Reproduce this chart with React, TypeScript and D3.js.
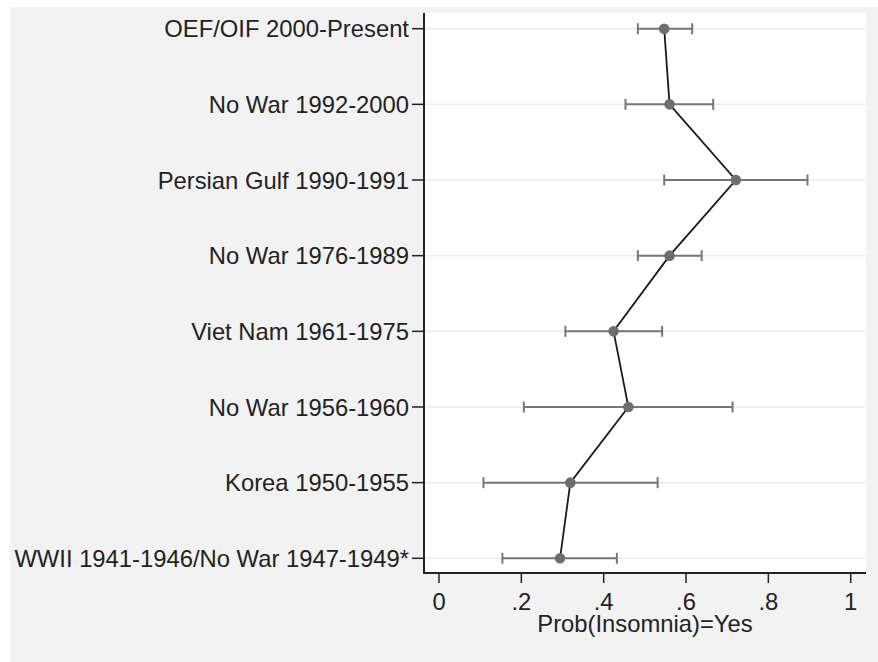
import * as d3 from "d3";

const categories = [
  "OEF/OIF 2000-Present",
  "No War 1992-2000",
  "Persian Gulf 1990-1991",
  "No War 1976-1989",
  "Viet Nam 1961-1975",
  "No War 1956-1960",
  "Korea 1950-1955",
  "WWII 1941-1946/No War 1947-1949*",
];
const estimates = [0.547, 0.56, 0.721, 0.56, 0.424, 0.46, 0.319, 0.294];
const lower = [0.483, 0.453, 0.547, 0.483, 0.307, 0.206, 0.108, 0.154];
const upper = [0.615, 0.666, 0.895, 0.638, 0.542, 0.713, 0.531, 0.432];
const xTicks = [0, 0.2, 0.4, 0.6, 0.8, 1];
const xTickLabels = ["0", ".2", ".4", ".6", ".8", "1"];

const W = 878;
const H = 662;
const plot = { left: 424, right: 866, top: 13, bottom: 573 };
const font = "'Liberation Sans', Arial, sans-serif";
const fs = 23.8;

export default function App() {
  const x = d3.scaleLinear().domain([0, 1]).range([439, 850.7]);
  const y = d3
    .scalePoint<string>()
    .domain(categories)
    .range([28.7, 558.3]);

  const rows = categories.map((c, i) => ({
    c,
    est: estimates[i],
    lo: lower[i],
    hi: upper[i],
  }));

  const line = d3
    .line<(typeof rows)[number]>()
    .x((d) => x(d.est))
    .y((d) => y(d.c)!);

  return (
    <svg
      width={W}
      height={H}
      style={{ position: "absolute", left: 0, top: 0, display: "block" }}
      fontFamily={font}
    >
      <rect x={0} y={0} width={W} height={H} fill="#ffffff" />
      <rect x={10} y={7} width={W - 10} height={H - 7} fill="#f2f2f2" />
      <rect
        x={plot.left}
        y={plot.top}
        width={plot.right - plot.left}
        height={plot.bottom - plot.top}
        fill="#ffffff"
      />

      {/* gridlines */}
      {categories.map((c) => (
        <line
          key={"g" + c}
          x1={plot.left}
          x2={plot.right}
          y1={y(c)}
          y2={y(c)}
          stroke="#ebebeb"
          strokeWidth={1.5}
        />
      ))}

      {/* error bars */}
      {rows.map((d) => (
        <g key={"e" + d.c} stroke="#767676" strokeWidth={2}>
          <line x1={x(d.lo)} x2={x(d.hi)} y1={y(d.c)} y2={y(d.c)} />
          <line x1={x(d.lo)} x2={x(d.lo)} y1={y(d.c)! - 5.5} y2={y(d.c)! + 5.5} />
          <line x1={x(d.hi)} x2={x(d.hi)} y1={y(d.c)! - 5.5} y2={y(d.c)! + 5.5} />
        </g>
      ))}

      <path d={line(rows) || ""} fill="none" stroke="#1a1a1a" strokeWidth={1.8} />

      {rows.map((d) => (
        <circle key={"p" + d.c} cx={x(d.est)} cy={y(d.c)} r={5.3} fill="#6e6e6e" />
      ))}

      {/* y axis */}
      <line x1={plot.left} x2={plot.left} y1={plot.top} y2={plot.bottom + 1} stroke="#222" strokeWidth={2} />
      {categories.map((c) => (
        <g key={"t" + c}>
          <line x1={412} x2={plot.left} y1={y(c)} y2={y(c)} stroke="#222" strokeWidth={1.5} />
          <text
            x={409}
            y={y(c)}
            dy="0.36em"
            textAnchor="end"
            fontSize={fs}
            fill="#222"
          >
            {c}
          </text>
        </g>
      ))}

      {/* x axis */}
      <line x1={plot.left - 1} x2={plot.right} y1={plot.bottom} y2={plot.bottom} stroke="#222" strokeWidth={2} />
      {xTicks.map((t, i) => (
        <g key={"x" + t}>
          <line x1={x(t)} x2={x(t)} y1={plot.bottom} y2={583} stroke="#222" strokeWidth={1.5} />
          <text x={x(t)} y={610} textAnchor="middle" fontSize={fs} fill="#222">
            {xTickLabels[i]}
          </text>
        </g>
      ))}
      <text
        x={(plot.left + plot.right) / 2}
        y={632}
        textAnchor="middle"
        fontSize={fs}
        fill="#222"
      >
        Prob(Insomnia)=Yes
      </text>
    </svg>
  );
}
